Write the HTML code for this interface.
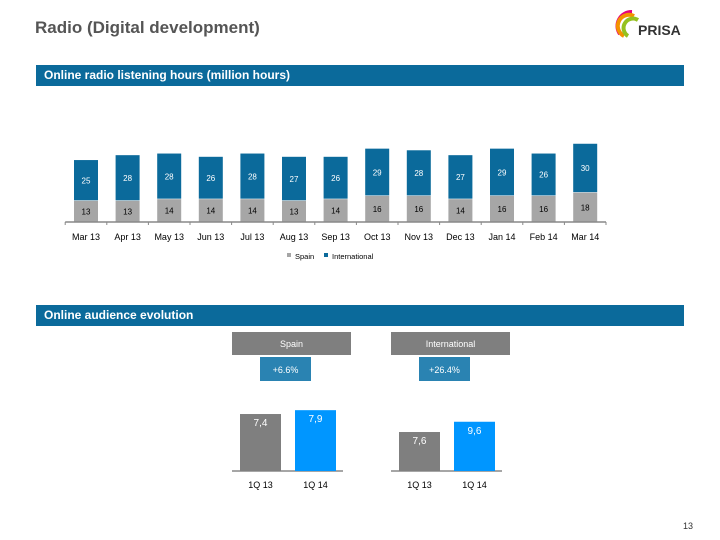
<!DOCTYPE html>
<html><head><meta charset="utf-8"><style>
body{margin:0;width:720px;height:540px;background:#fff;font-family:"Liberation Sans",sans-serif;position:relative;overflow:hidden}
.a{position:absolute}
.band{position:absolute;left:36px;width:648px;height:21px;background:#0b6a9b;color:#fff;font-weight:bold;font-size:12px;line-height:21px;padding-left:8px;box-sizing:border-box}
</style></head><body>
<div class="a" style="left:35px;top:18px;font-size:17px;font-weight:bold;color:#555">Radio (Digital development)</div>
<svg class="a" style="left:610px;top:8px" width="80" height="32">
<path d="M22 4 A14 14 0 0 0 10 26" stroke="#e6007e" stroke-width="4" fill="none"/>
<path d="M24 8 A11 11 0 0 0 14 28" stroke="#f39200" stroke-width="4" fill="none"/>
<path d="M28 12 A8 8 0 0 0 18 28" stroke="#95c11f" stroke-width="4" fill="none"/>
<text x="28" y="27" font-family="Liberation Sans" font-weight="bold" font-size="14" fill="#333">PRISA</text>
</svg>
<div class="band" style="top:65px">Online radio listening hours (million hours)</div>
<svg class="a" id="topchart" style="left:0;top:90px" width="720" height="180"></svg>
<div class="band" style="top:305px">Online audience evolution</div>
<svg class="a" id="bot" style="left:0;top:0" width="720" height="540"></svg>
<div class="a" style="left:683px;top:521px;font-size:9px;color:#333">13</div>
<script>
const months=["Mar 13","Apr 13","May 13","Jun 13","Jul 13","Aug 13","Sep 13","Oct 13","Nov 13","Dec 13","Jan 14","Feb 14","Mar 14"];
const spain=[13,13,14,14,14,13,14,16,16,14,16,16,18];
const intl=[25,28,28,26,28,27,26,29,28,27,29,26,30];
const segs=["Spain","International"];
const panels=["Spain","International"];
const growth=["+6.6%","+26.4%"];
const quarters=["1Q 13","1Q 14"];
const audSpain=[7.4,7.9];
const audIntl=[7.6,9.6];
const NS="http://www.w3.org/2000/svg";
function mk(p,t,a,txt){const e=document.createElementNS(NS,t);for(const k in a)e.setAttribute(k,a[k]);if(txt!==undefined)e.textContent=txt;p.appendChild(e);return e;}
const topSvg=document.getElementById('topchart');
const base=132,kk=1.63,x0=86,dx=41.6,bw=24;
const xc=i=>x0+i*dx, yv=v=>base-v*kk;
months.forEach((m,i)=>{
 const c=xc(i);
 let r=mk(topSvg,'rect',{x:c-bw/2,y:yv(spain[i]),width:bw,height:spain[i]*kk,fill:'#a6a6a6'});
 
 
 r=mk(topSvg,'rect',{x:c-bw/2,y:yv(spain[i]+intl[i]),width:bw,height:intl[i]*kk-0.5,fill:'#0b6a9b'});
 
 
 mk(topSvg,'text',{x:c,y:yv(spain[i]/2)+3,'text-anchor':'middle','font-size':8,fill:'#000'},spain[i]);
 mk(topSvg,'text',{x:c,y:yv(spain[i]+intl[i]/2)+3,'text-anchor':'middle','font-size':8,fill:'#fff'},intl[i]);
 const t=mk(topSvg,'text',{x:c,y:150,'text-anchor':'middle','font-size':9,fill:'#000'},m);
 
 
 mk(topSvg,'line',{x1:c-dx/2,x2:c-dx/2,y1:base,y2:base+3,stroke:'#888'});
});
mk(topSvg,'line',{x1:x0-dx/2,x2:xc(12)+dx/2,y1:base,y2:base,stroke:'#888','stroke-width':1.5});
mk(topSvg,'line',{x1:xc(12)+dx/2,x2:xc(12)+dx/2,y1:base,y2:base+3,stroke:'#888'});
const lg=mk(topSvg,'g',{});


mk(lg,'rect',{x:287,y:163,width:4,height:4,fill:'#a6a6a6'});
mk(lg,'text',{x:295,y:169,'font-size':7.5},segs[0]);
mk(lg,'rect',{x:324,y:163,width:4,height:4,fill:'#0b6a9b'});
mk(lg,'text',{x:332,y:169,'font-size':7.5},segs[1]);
const bot=document.getElementById('bot');
const P=[{x:232,vals:audSpain,k:7.7,bx:[240,295],px:260},{x:391,vals:audIntl,k:5.13,bx:[399,454],px:419}];
P.forEach((p,j)=>{
 let h=mk(bot,'rect',{x:p.x,y:332,width:119,height:23,fill:'#7f7f7f'});
 
 
 mk(bot,'text',{x:p.x+59.5,y:347,'text-anchor':'middle','font-size':9,fill:'#fff'},panels[j]);
 h=mk(bot,'rect',{x:p.px,y:357,width:51,height:24,fill:'#2a83b2'});
 
 
 mk(bot,'text',{x:p.px+25.5,y:373,'text-anchor':'middle','font-size':9,fill:'#fff'},growth[j]);
 mk(bot,'line',{x1:p.x,x2:p.x+111,y1:471,y2:471,stroke:'#888','stroke-width':1.5});
 p.vals.forEach((v,i)=>{
  const r=mk(bot,'rect',{x:p.bx[i],y:471-v*p.k,width:41,height:v*p.k,fill:i?'#0096ff':'#7f7f7f'});
  
  
  mk(bot,'text',{x:p.bx[i]+20.5,y:471-v*p.k+12,'text-anchor':'middle','font-size':10,fill:'#fff'},String(v).replace('.',','));
  mk(bot,'text',{x:p.bx[i]+20.5,y:488,'text-anchor':'middle','font-size':9,fill:'#000'},quarters[i]);
 });
});
</script>
</body></html>
